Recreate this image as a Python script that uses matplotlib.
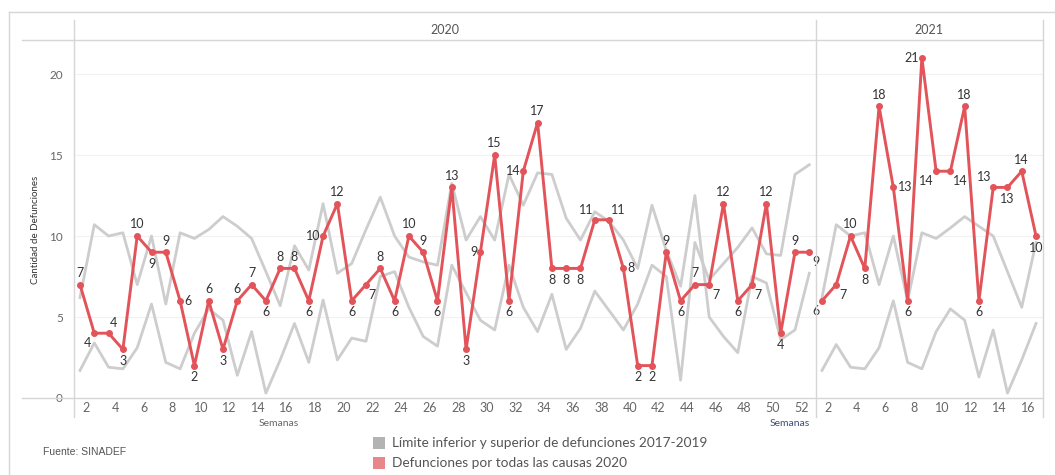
import matplotlib.pyplot as plt
from matplotlib.lines import Line2D
from matplotlib.patches import Rectangle

plt.rcParams['font.family'] = ['Lato', 'DejaVu Sans']

# Datos (semanas epidemiologicas)
semanas_2020 = list(range(1, 53))
defunciones_2020 = [7, 4, 4, 3, 10, 9, 9, 6, 2, 6, 3, 6, 7, 6, 8, 8, 6, 10, 12, 6,
                    7, 8, 6, 10, 9, 6, 13, 3, 9, 15, 6, 14, 17, 8, 8, 8, 11, 11, 8, 2,
                    2, 9, 6, 7, 7, 12, 6, 7, 12, 4, 9, 9]
# limites 2017-2019 (las dos lineas grises se cruzan en algunas semanas)
limite_a_2020 = [6.2, 10.7, 10.0, 10.2, 7.0, 10.0, 5.8, 10.2, 9.85, 10.4,
                 11.2, 10.6, 9.85, 7.8, 5.7, 9.4, 7.9, 12.0, 7.7, 8.3,
                 10.4, 12.4, 10.0, 8.7, 8.4, 8.2, 13.25, 9.75, 11.2, 9.75,
                 13.8, 11.9, 13.9, 13.8, 11.1, 9.75, 11.5, 10.9, 9.75, 8.0,
                 11.9, 9.1, 6.9, 12.5, 5.0, 3.8, 2.8, 7.5, 7.1, 3.6, 4.2, 7.7]
limite_b_2020 = [1.7, 3.4, 1.9, 1.8, 3.1, 5.8, 2.2, 1.8, 4.0, 5.5,
                 4.8, 1.4, 4.1, 0.3, 2.35, 4.6, 2.2, 6.05, 2.35, 3.7,
                 3.5, 7.5, 7.8, 5.6, 3.8, 3.2, 8.2, 6.5, 4.8, 4.2,
                 8.2, 5.6, 4.1, 6.4, 3.0, 4.3, 6.6, 5.4, 4.2, 5.8,
                 8.2, 7.5, 1.1, 9.6, 7.3, 8.3, 9.3, 10.5, 8.9, 8.8, 13.8, 14.4]

semanas_2021 = list(range(1, 17))
defunciones_2021 = [6, 7, 10, 8, 18, 13, 6, 21, 14, 14, 18, 6, 13, 13, 14, 10]
limite_a_2021 = [6.2, 10.7, 10.0, 10.2, 7.0, 10.0, 6.0, 10.2, 9.85, 10.5,
                 11.2, 10.6, 10.0, 7.8, 5.6, 9.6]
limite_b_2021 = [1.7, 3.3, 1.9, 1.8, 3.1, 6.0, 2.2, 1.8, 4.1, 5.5,
                 4.8, 1.3, 4.2, 0.3, 2.35, 4.6]

# posicion de cada etiqueta: a=arriba, b=abajo, l=izq, r=der
pos_2020 = ['a', 'bl', 'ar', 'b', 'a', 'b', 'a', 'r', 'b', 'a',
            'b', 'a', 'a', 'b', 'a', 'a', 'b', 'l', 'a', 'b',
            'br', 'a', 'b', 'a', 'a', 'b', 'a', 'b', 'l', 'a',
            'b', 'l', 'a', 'b', 'b', 'b', 'al', 'ar', 'r', 'b',
            'b', 'a', 'b', 'a', 'br', 'a', 'b', 'br', 'a', 'b', 'a', 'br']
pos_2021 = ['bl', 'br', 'a', 'b', 'a', 'r', 'b', 'l', 'bl', 'br',
            'a', 'b', 'al', 'b', 'a', 'b']

ROJO = '#e2545a'
GRIS = '#cdcdcd'
W, H = 1055, 475


def px(x, y):
    return x / W, 1 - y / H


fig = plt.figure(figsize=(W / 100, H / 100), dpi=100)

y0, y1 = 398, 40
ax1 = fig.add_axes([74 / W, 1 - y0 / H, (816 - 74) / W, (y0 - y1) / H])
ax2 = fig.add_axes([816 / W, 1 - y0 / H, (1043 - 816) / W, (y0 - y1) / H], sharey=ax1)

offsets = {'a': ((0, 4), 'center', 'bottom'), 'b': ((0, -4), 'center', 'top'),
           'l': ((-2, 0), 'right', 'center'), 'r': ((3, 0), 'left', 'center'),
           'bl': ((-2, -3), 'right', 'top'), 'br': ((2, -3), 'left', 'top'),
           'ar': ((1, 3), 'left', 'bottom'), 'al': ((-1, 3), 'right', 'bottom')}


def panel(ax, semanas, vals, lim_a, lim_b, pos, xmax, ticks):
    ax.set_facecolor('none')
    ax.plot(semanas, lim_a, color=GRIS, lw=2.0, zorder=2)
    ax.plot(semanas, lim_b, color=GRIS, lw=2.0, zorder=2)
    ax.plot(semanas, vals, color=ROJO, lw=2.1, marker='o', ms=4, zorder=3)
    for s, v, p in zip(semanas, vals, pos):
        off, ha, va = offsets[p]
        ax.annotate(str(v), (s, v), xytext=off, textcoords='offset points',
                    ha=ha, va=va, fontsize=9, color='#333333', zorder=4)
    ax.set_xlim(0.58, xmax)
    ax.set_ylim(0, 22.1)
    ax.set_xticks([t - 0.55 for t in ticks])
    ax.set_xticklabels([str(t) for t in ticks], fontsize=9, color='#666666')
    ax.tick_params(axis='x', length=0, pad=3)
    ax.grid(axis='y', color='#f1f1f1', lw=0.8)
    ax.set_axisbelow(True)
    for sp in ax.spines.values():
        sp.set_visible(False)


panel(ax1, semanas_2020, defunciones_2020, limite_a_2020, limite_b_2020,
      pos_2020, 52.47, list(range(2, 53, 2)))
panel(ax2, semanas_2021, defunciones_2021, limite_a_2021, limite_b_2021,
      pos_2021, 16.49, list(range(2, 17, 2)))

ax1.set_yticks([0, 5, 10, 15, 20])
ax1.set_yticklabels(['0', '5', '10', '15', '20'], fontsize=8.5, color='#666666')
ax1.tick_params(axis='y', length=0, pad=8)
ax2.tick_params(axis='y', left=False, labelleft=False)

# lineas de marco, cabecera y separadores
lineas = [((9, 12), (1055, 12)), ((9, 12), (9, 475)),
          ((22, 40), (1043, 40)), ((22, 398), (1043, 398)),
          ((74, 20), (74, 417)), ((816, 20), (816, 417)), ((1043, 20), (1043, 417))]
for (xa, ya), (xb, yb) in lineas:
    (fa, ga), (fb, gb) = px(xa, ya), px(xb, yb)
    fig.add_artist(Line2D([fa, fb], [ga, gb], transform=fig.transFigure,
                          color='#d6d6d6', lw=1.0))

fig.text(*px(445, 30), '2020', ha='center', va='center', fontsize=9, color='#555555')
fig.text(*px(929, 30), '2021', ha='center', va='center', fontsize=9, color='#555555')
fig.text(*px(36, 230), 'Cantidad de Defunciones', rotation=90, ha='center',
         va='center', fontsize=7, color='#333333')
fig.text(*px(279, 423), 'Semanas', ha='center', va='center', fontsize=7.5, color='#666666')
fig.text(*px(790, 423), 'Semanas', ha='center', va='center', fontsize=7.5, color='#3b4f73')
fig.text(*px(43, 452), 'Fuente: SINADEF', ha='left', va='center', fontsize=7.5,
         color='#555555', family=['Liberation Sans', 'DejaVu Sans'])

# leyenda
for yy, col, txt in [(437, '#b3b3b3', 'Límite inferior y superior de defunciones 2017-2019'),
                     (457, '#e8878a', 'Defunciones por todas las causas 2020')]:
    fx, fy = px(373, yy + 12)
    fig.add_artist(Rectangle((fx, fy), 12 / W, 12 / H, transform=fig.transFigure,
                             color=col, lw=0))
    fig.text(*px(392, yy + 6), txt, ha='left', va='center', fontsize=9.8, color='#555555')

fig.savefig('out.png', dpi=100)
